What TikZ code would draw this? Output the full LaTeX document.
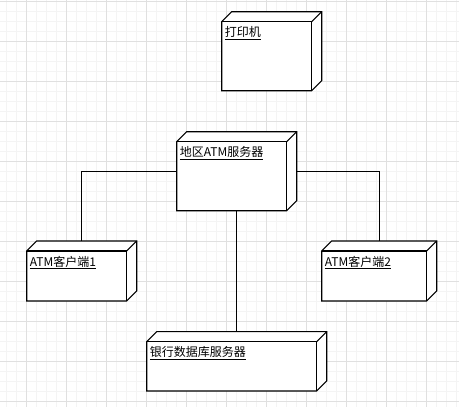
\documentclass[tikz,border=0pt]{standalone}
\usepackage{fontspec}
\newfontfamily\cjk{Noto Sans CJK SC}
\usetikzlibrary{calc, backgrounds}

\definecolor{gridmajor}{RGB}{224,224,224}
\definecolor{gridminor}{RGB}{244,244,244}

\begin{document}
\begin{tikzpicture}[
      x=1pt, y=-1pt,
      device/.style={rectangle, inner sep=0, outer sep=0},
      face/.style={draw=black, line width=1.1pt, line join=miter},
      link/.style={draw=black, line width=1pt},
      tag/.style={anchor=base west, inner sep=0, xshift=3pt, yshift=-25pt,
                  font=\cjk\fontsize{12pt}{14pt}\selectfont},
      majorgrid/.style={draw=gridmajor, line width=1pt},
      minorgrid/.style={draw=gridminor, line width=1pt}
    ]
    \useasboundingbox (0,0) rectangle (459,407);

    \node[device, minimum width=100pt, minimum height=79pt,
          label={[tag]north west:\underline{打印机}}] (prn) at (271.7,51.2) {};
    \node[device, minimum width=120pt, minimum height=79pt,
          label={[tag]north west:\underline{地区ATM服务器}}] (srv) at (236.7,171.2) {};
    \node[device, minimum width=110pt, minimum height=60pt,
          label={[tag]north west:\underline{ATM客户端1}}] (cl1) at (81.7,271) {};
    \node[device, minimum width=115pt, minimum height=60pt,
          label={[tag]north west:\underline{ATM客户端2}}] (cl2) at (379.2,271) {};
    \node[device, minimum width=180pt, minimum height=59.3pt,
          label={[tag]north west:\underline{银行数据库服务器}}] (db) at (236.7,361.3) {};

    \begin{pgfonlayer}{background}
      % grid
      \foreach \x in {6.7,16.7,...,456.7} \draw[minorgrid] (\x,0) -- (\x,407);
      \foreach \y in {1.7,11.7,...,401.7} \draw[minorgrid] (0,\y) -- (459,\y);
      \foreach \x in {26.7,66.7,...,426.7} \draw[majorgrid] (\x,0) -- (\x,407);
      \foreach \y in {1.7,41.7,...,401.7} \draw[majorgrid] (0,\y) -- (459,\y);
      % 3d boxes
      \foreach \n in {prn,srv,cl1,cl2,db}{
        \draw[face, fill=white] (\n.south west) -- ($(\n.north west)+(0,10)$) -- ++(10,-10)
          -- (\n.north east) -- ($(\n.south east)+(0,-10)$) -- ++(-10,10) -- cycle;
        \draw[face] ($(\n.north west)+(0,10)$) -| ($(\n.south east)+(-10,0)$);
        \draw[face] ($(\n.north east)+(-10,10)$) -- (\n.north east);
      }
    \end{pgfonlayer}

    \draw[link] (srv.west) -| (cl1.north);
    \draw[link] (srv.east) -| (cl2.north);
    \draw[link] (srv.south) -- (db.north);
  \end{tikzpicture}
\end{document}
